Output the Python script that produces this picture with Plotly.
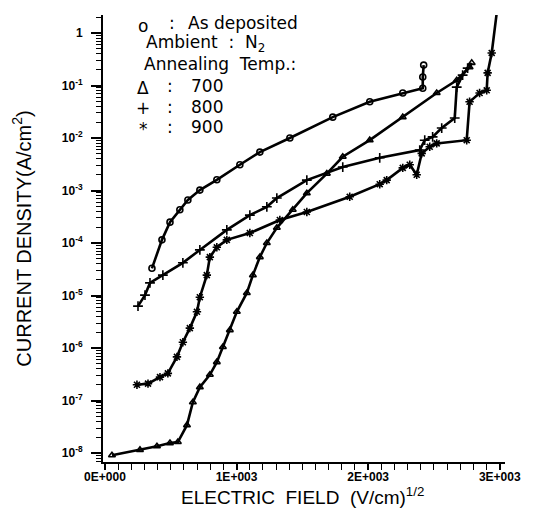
import plotly.graph_objects as go

# ---- data (E-field in (V/cm)^1/2, J in A/cm^2) ----
as_dep_x = [357, 433, 494, 569, 630, 721, 850, 1025, 1177, 1405, 1731, 2012, 2263, 2415, 2415, 2422]
as_dep_y = [3.3e-5, 1.15e-4, 2.5e-4, 4.3e-4, 6.6e-4, 1.02e-3, 1.6e-3, 3.1e-3, 5.4e-3, 1.0e-2,
            2.5e-2, 4.9e-2, 7.2e-2, 8.9e-2, 0.145, 0.245]

t700_x = [53, 266, 395, 494, 554, 623, 668, 721, 797, 850, 896, 949, 1002, 1078, 1124, 1177, 1230,
          1306, 1427, 1534, 1686, 1807, 2012, 2263, 2521, 2673, 2771, 2787]
t700_y = [9.1e-9, 1.15e-8, 1.35e-8, 1.55e-8, 1.62e-8, 3.4e-8, 9.3e-8, 1.8e-7, 3.1e-7, 5.4e-7, 1.05e-6,
          2.2e-6, 4.9e-6, 1.12e-5, 2.45e-5, 5.4e-5, 1.0e-4, 1.95e-4, 4.3e-4, 8.9e-4, 2.1e-3, 4.4e-3,
          9.1e-3, 2.5e-2, 7.2e-2, 0.126, 0.224, 0.27]

t800_x = [251, 304, 342, 440, 592, 721, 926, 1101, 1230, 1306, 1534, 1807, 2088, 2392, 2430, 2490,
          2559, 2658, 2673, 2718, 2756]
t800_y = [6.3e-6, 1.02e-5, 1.74e-5, 2.45e-5, 4.2e-5, 7.4e-5, 1.78e-4, 3.4e-4, 4.9e-4, 7.2e-4, 1.58e-3,
          2.8e-3, 4.2e-3, 5.9e-3, 9.1e-3, 1.05e-2, 1.55e-2, 2.4e-2, 9.3e-2, 0.158, 0.214]

t900_x = [243, 327, 418, 478, 547, 592, 645, 699, 721, 774, 797, 850, 926, 1101, 1329, 1534, 1860,
          2088, 2141, 2263, 2316, 2369, 2407, 2468, 2521, 2749, 2771, 2847, 2901, 2908, 2939, 2977]
t900_y = [2.0e-7, 2.1e-7, 2.8e-7, 3.3e-7, 6.8e-7, 1.29e-6, 2.4e-6, 4.9e-6, 9.3e-6, 2.45e-5, 5.4e-5,
          8.3e-5, 1.15e-4, 1.55e-4, 2.75e-4, 3.9e-4, 7.6e-4, 1.32e-3, 1.58e-3, 2.7e-3, 3.1e-3, 2.0e-3,
          5.1e-3, 6.8e-3, 7.9e-3, 9.1e-3, 4.9e-2, 7.2e-2, 8.1e-2, 0.174, 0.417, 2.4]

x_tickvals = [0, 1000, 2000, 3000]
x_ticktext = ["0E+000", "1E+003", "2E+003", "3E+003"]
y_tickvals = [1, 1e-1, 1e-2, 1e-3, 1e-4, 1e-5, 1e-6, 1e-7, 1e-8]
y_ticktext = ["1", "10<sup>-1</sup>", "10<sup>-2</sup>", "10<sup>-3</sup>", "10<sup>-4</sup>",
              "10<sup>-5</sup>", "10<sup>-6</sup>", "10<sup>-7</sup>", "10<sup>-8</sup>"]

legend_lines = ["o", ":", "As deposited",
                "Ambient  :  N<sub>2</sub>",
                "Annealing  Temp.:",
                "\u0394", ":", "700",
                "+", ":", "800",
                "*", ":", "900"]
x_title = "ELECTRIC\u00a0 FIELD\u00a0 (V/cm)<sup>1/2</sup>"
y_title = "CURRENT DENSITY(A/cm<sup>2</sup>)"

fig = go.Figure()

series = [
    (as_dep_x, as_dep_y, "circle-open", 6),
    (t700_x, t700_y, "triangle-up-open", 6),
    (t800_x, t800_y, "cross-thin-open", 7),
    (t900_x, t900_y, "asterisk-open", 7),
]
for xs, ys, sym, sz in series:
    fig.add_trace(go.Scatter(
        x=xs, y=ys, mode="lines+markers",
        line=dict(color="black", width=2.6),
        marker=dict(symbol=sym, size=sz, color="black", line=dict(color="black", width=1.6)),
        cliponaxis=False, showlegend=False,
    ))

font_leg = dict(family="DejaVu Sans", size=17, color="black")
W, H = 540, 531
L, R, T, B = 103, 35, 15, 69
pw, ph = W - L - R, H - T - B


def px(xp):
    return (xp - L) / pw


def py(yp):
    return 1 - (yp - T) / ph


rows = [
    (legend_lines[0], 143, 26, "center"), (legend_lines[1], 172, 23, "center"), (legend_lines[2], 186, 23, "left"),
    (legend_lines[3], 144, 43, "left"),
    (legend_lines[4], 142, 64, "left"),
    (legend_lines[5], 143, 88, "center"), (legend_lines[6], 170, 86, "center"), (legend_lines[7], 189, 86, "left"),
    (legend_lines[8], 143, 108, "center"), (legend_lines[9], 170, 107, "center"), (legend_lines[10], 189, 107, "left"),
    (legend_lines[11], 143, 129, "center"), (legend_lines[12], 170, 127, "center"), (legend_lines[13], 189, 127, "left"),
]
for txt, xp, yp, anchor in rows:
    fig.add_annotation(text=txt, xref="paper", yref="paper", x=px(xp), y=py(yp),
                       xanchor=anchor, yanchor="middle", showarrow=False, font=font_leg)

# x-axis title placed just under the tick labels
fig.add_annotation(text=x_title, xref="paper", yref="paper", x=px(302), y=py(510),
                   xanchor="center", yanchor="bottom", showarrow=False,
                   font=dict(family="Liberation Sans", size=19, color="black"))

fig.update_layout(
    width=W, height=H,
    margin=dict(l=L, r=R, t=T, b=B),
    paper_bgcolor="white", plot_bgcolor="white",
    font=dict(family="Liberation Sans", color="black"),
)
fig.update_xaxes(
    range=[-15, 3040], showgrid=False, zeroline=False, automargin=False,
    showline=True, linecolor="black", linewidth=2,
    tickmode="array", tickvals=x_tickvals, ticktext=x_ticktext,
    ticks="outside", ticklen=6, tickwidth=1.5, tickcolor="black",
    tickfont=dict(family="Liberation Sans", size=12, weight="bold"),
    ticklabelstandoff=-3,
    minor=dict(dtick=100, ticks="outside", ticklen=6, tickwidth=1.2, tickcolor="black", showgrid=False),
)
fig.update_yaxes(
    type="log", range=[-8.17, 0.343], showgrid=False, zeroline=False, automargin=False,
    showline=True, linecolor="black", linewidth=2,
    tickmode="array", tickvals=y_tickvals, ticktext=y_ticktext,
    ticks="outside", ticklen=10, tickwidth=1.5, tickcolor="black",
    tickfont=dict(family="Liberation Sans", size=12, weight="bold"),
    ticklabelstandoff=6,
    minor=dict(dtick="D1", ticks="outside", ticklen=5, tickwidth=1, tickcolor="black", showgrid=False),
    title=dict(text=y_title, font=dict(family="Liberation Sans", size=20), standoff=25),
)

fig.write_html("out.html", config={"displayModeBar": False},
               post_script="document.body.style.margin='0px';")
